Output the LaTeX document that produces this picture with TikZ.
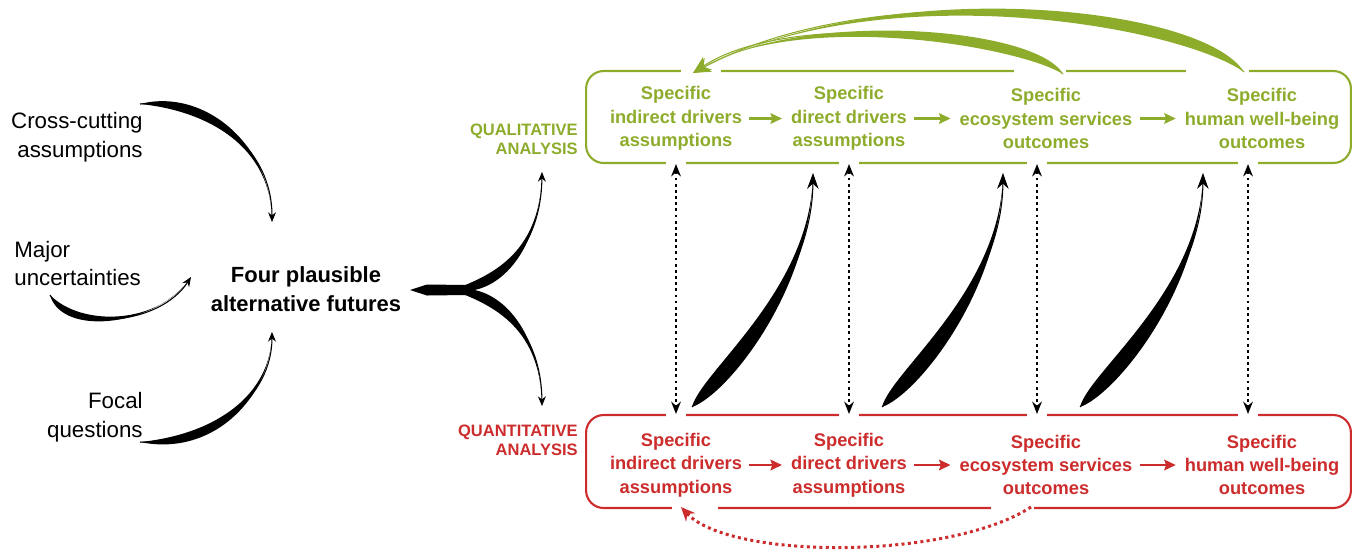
\documentclass[tikz,border=0pt]{standalone}
\usepackage{fontspec}
\setmainfont{Liberation Sans}
\usetikzlibrary{arrows.meta,calc}
\definecolor{qlgreen}{RGB}{141,172,44}
\definecolor{qnred}{RGB}{204,44,44}
% tapered arrow: #1 start, #2 control 1, #3 control 2, #4 end, #5 half bulge, #6 colour, #7 tip
\newcommand\taparrow[7]{%
  \fill[#6] (#1) .. controls ($(#2)!#5!90:(#1)$) and (#3) .. (#4)
     .. controls (#3) and ($(#2)!#5!-90:(#1)$) .. (#1) -- cycle;
  \draw[#6, line width=0.6pt, #7] (#1) .. controls (#2) and (#3) .. (#4);
}
\tikzset{
  boxtext/.style={font=\fontsize{10.4pt}{13.3pt}\selectfont\bfseries, align=center, inner sep=2pt},
  qltext/.style={boxtext, text=qlgreen},
  qntext/.style={boxtext, text=qnred},
  sidetext/.style={font=\fontsize{12.7pt}{16.4pt}\selectfont, inner sep=0pt},
  futtext/.style={font=\fontsize{12.5pt}{16.4pt}\selectfont\bfseries, align=center, inner sep=0pt},
  analysis/.style={font=\fontsize{9.4pt}{10.8pt}\selectfont\bfseries, align=right, inner sep=0pt, anchor=east},
  boxframe/.style={rounded corners=10pt, line width=1.2pt, inner sep=0pt},
  smallarr/.style={line width=1.6pt, -{Stealth[length=6.5pt,width=6pt,inset=1pt]}, shorten <=2pt, shorten >=3pt},
  dotarr/.style={line width=1.6pt, dash pattern=on 1.6pt off 1.9pt,
     {Stealth[length=7pt,width=5.5pt]}-{Stealth[length=7pt,width=5.5pt]}},
  smalltip/.style={-{Stealth[length=5.5pt,width=4.5pt]}},
  bigtip/.style={-{Stealth[length=9pt,width=6.5pt]}},
  greentip/.style={-{Stealth[length=10pt,width=9pt]}},
}
\begin{document}
\begin{tikzpicture}[x=0.02cm,y=-0.02cm]
\useasboundingbox (0,0) rectangle (1355,552);

% boxes
\node[boxframe, draw=qlgreen, minimum width=15.3cm, minimum height=1.84cm] (qlbox) at (968.5,117) {};
\node[boxframe, draw=qnred, minimum width=15.3cm, minimum height=1.86cm] (qnbox) at (968.5,461.5) {};

% gaps in the frames
\foreach \x in {676,849,1037,1248} {
  \fill[white] (\x-10,159) rectangle (\x+10,167);
  \fill[white] (\x-10,411) rectangle (\x+10,419);
}
\fill[white] (681,67) rectangle (721,75);
\fill[white] (1014,67) rectangle (1066,75);
\fill[white] (1186,67) rectangle (1249,75);
\fill[white] (672,504) rectangle (718,512);
\fill[white] (991,504) rectangle (1034,512);

% texts in boxes
\node[qltext] (qlA) at (676,118.5) {Specific\\indirect drivers\\assumptions};
\node[qltext] (qlB) at (849,118.5) {Specific\\direct drivers\\assumptions};
\node[qltext] (qlC) at (1046,118.5) {Specific\\ecosystem services\\outcomes};
\node[qltext] (qlD) at (1262,118.5) {Specific\\human well-being\\outcomes};
\node[qntext] (qnA) at (676,465) {Specific\\indirect drivers\\assumptions};
\node[qntext] (qnB) at (849,465) {Specific\\direct drivers\\assumptions};
\node[qntext] (qnC) at (1046,465) {Specific\\ecosystem services\\outcomes};
\node[qntext] (qnD) at (1262,465) {Specific\\human well-being\\outcomes};

\draw[smallarr, qlgreen] (qlA.east) -- (qlB.west);
\draw[smallarr, qlgreen] (qlB.east) -- (qlC.west);
\draw[smallarr, qlgreen] (qlC.east) -- (qlD.west);
\draw[smallarr, qnred] (qnA.east) -- (qnB.west);
\draw[smallarr, qnred] (qnB.east) -- (qnC.west);
\draw[smallarr, qnred] (qnC.east) -- (qnD.west);

% labels
\node[analysis, text=qlgreen] (qllab) at (578,139) {QUALITATIVE\\ANALYSIS};
\node[analysis, text=qnred] (qnlab) at (578,440) {QUANTITATIVE\\ANALYSIS};

\node[sidetext, align=right, anchor=east] (cross) at (143,137.5) {Cross-cutting\\assumptions};
\node[sidetext, align=left, anchor=west] (major) at (14,263.5) {Major\\uncertainties};
\node[sidetext, align=right, anchor=east] (focal) at (143,417.5) {Focal\\questions};
\node[futtext] (futures) at (306,289.5) {Four plausible\\alternative futures};

% dotted vertical links
\foreach \x/\n in {676/1,849/2,1037/3,1248/4} {
  \coordinate (dv\n) at (\x,300);
  \draw[dotarr] (qlbox.south -| dv\n) -- (qnbox.north -| dv\n);
}

% left tapered arrows
\coordinate (L1s) at (140,104); \coordinate (L1e) at (272,222);
\coordinate (L2s) at (50,295);  \coordinate (L2e) at (191,277);
\coordinate (L3s) at (140,442); \coordinate (L3e) at (272,332);
\taparrow{L1s}{205,99}{272,145}{L1e}{6.6pt}{black}{smalltip}
\taparrow{L2s}{72,333}{160,325}{L2e}{6.4pt}{black}{smalltip}
\taparrow{L3s}{215,446}{272,395}{L3e}{6.6pt}{black}{smalltip}

% fork: pointed stem and two branches
\coordinate (fk) at (410,290);
\coordinate (fj) at (452,290);
\coordinate (fkU) at (542,172); \coordinate (fkD) at (542,406);
\fill (fk) -- ($(fk)+(17,-5.5)$) -- ($(fj)+(14,-5)$) -- ($(fj)+(14,5)$) -- ($(fk)+(17,5.5)$) -- cycle;
\taparrow{fj}{497,287}{541,250}{fkU}{7.2pt}{black}{smalltip}
\taparrow{fj}{497,293}{541,330}{fkD}{7.2pt}{black}{smalltip}

% black tapered arrows between analyses
\coordinate (T1s) at (692,407); \coordinate (T1e) at (813,173);
\coordinate (T2s) at (882,407); \coordinate (T2e) at (1003,173);
\coordinate (T3s) at (1080,407); \coordinate (T3e) at (1203,173);
\taparrow{T1s}{714,383}{812,290}{T1e}{10pt}{black}{bigtip}
\taparrow{T2s}{904,383}{1002,290}{T2e}{10pt}{black}{bigtip}
\taparrow{T3s}{1102,383}{1202,290}{T3e}{10pt}{black}{bigtip}

% green feedback arcs
\coordinate (G1s) at (1244,72); \coordinate (G2s) at (1063,74); \coordinate (Ge) at (693,73);
\taparrow{G1s}{1190,15}{880,-28}{Ge}{9pt}{qlgreen}{greentip}
\taparrow{G2s}{1025,35}{790,8}{Ge}{8pt}{qlgreen}{greentip}

% red dotted feedback arc
\coordinate (Rs) at (1031,507); \coordinate (Re) at (681,507);
\draw[qnred, line width=1.7pt, dash pattern=on 1.7pt off 1.9pt, -{Stealth[length=8pt,width=7pt]}]
  (Rs) .. controls (950,560) and (730,560) .. (Re);
\end{tikzpicture}
\end{document}
